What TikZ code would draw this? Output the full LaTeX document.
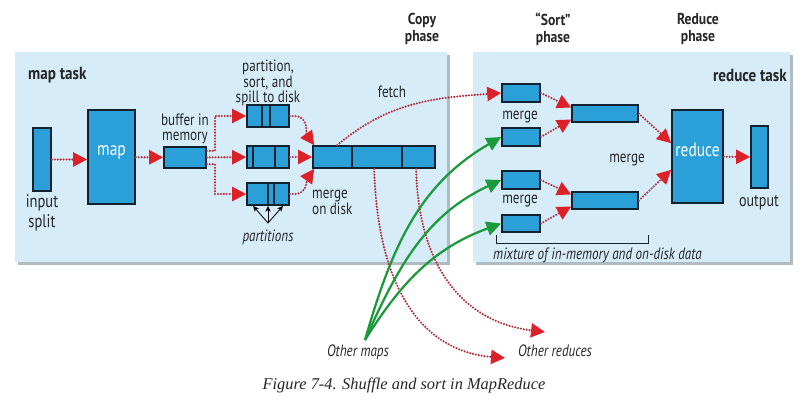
\documentclass[tikz,border=0pt]{standalone}
\usepackage{fontspec}
\setsansfont{PT Sans}[FakeStretch=0.8]
\newfontfamily\headfont{PT Sans}[FakeStretch=0.86]
\newfontfamily\capfont{Liberation Serif}
\usetikzlibrary{arrows.meta,fit,positioning}
\definecolor{panelc}{HTML}{D6ECF8}
\definecolor{shadowc}{HTML}{AEBBC1}
\definecolor{boxc}{HTML}{2A9FD8}
\definecolor{linec}{HTML}{13222E}
\definecolor{dotc}{HTML}{B02C38}
\definecolor{tipc}{HTML}{DD2128}
\definecolor{feedc}{HTML}{1B9A3B}
\begin{document}
\begin{tikzpicture}[x=0.3mm, y=-0.3mm, font=\sffamily\fontsize{14}{12.5}\selectfont,
		box/.style = {draw=linec, fill=boxc, line width=1.4pt, inner sep=0pt, text=white, font=\sffamily\fontsize{16.5}{17}\selectfont},
		letter/.style = {align=center, inner sep=0pt, text=black!85},
		title/.style = {letter, font=\headfont\bfseries\fontsize{13.5}{14.5}\selectfont},
		note/.style = {letter, font=\sffamily\itshape\fontsize{14}{12.5}\selectfont},
		flow/.style = {draw=dotc, line width=2pt, line cap=round, dash pattern=on 0pt off 2.5pt, -{Triangle[length=4.2mm,width=4.2mm,color=tipc]}},
		feed/.style = {draw=feedc, line width=1.9pt, -{Triangle[length=4.4mm,width=4.2mm,color=feedc]}},
		part/.style = {draw=black, line width=0.7pt, -{Stealth[length=1.8mm,width=1.6mm]}}]
		
		\useasboundingbox (0,0) rectangle (800,401);
		
		% panels
		\fill[shadowc] (18,55) rectangle (450,265);
		\fill[panelc] (15,52) rectangle (447,262);
		\fill[shadowc] (476,55) rectangle (793,265);
		\fill[panelc] (473,52) rectangle (790,262);
		
		% map side
		\node[box, fit={(33,128) (51,191)}] (in) {};
		\node[box, fit={(88,110) (135,204)}] (map) {map};
		\node[box, fit={(164,147) (206,168)}] (buf) {};
		\node[box, fit={(247,105) (289,127)}] (s1) {};
		\node[box, fit={(247,146) (289,168)}] (s2) {};
		\node[box, fit={(247,183) (289,205)}] (s3) {};
		\node[box, fit={(313,146) (435,168)}] (mg) {};
		
		\draw[linec, line width=1.4pt] (262,105) -- (262,127);
		\draw[linec, line width=1.4pt] (270,105) -- (270,127);
		\draw[linec, line width=1.4pt] (253,146) -- (253,168);
		\draw[linec, line width=1.4pt] (275,146) -- (275,168);
		\draw[linec, line width=1.4pt] (268,183) -- (268,205);
		\draw[linec, line width=1.4pt] (274,183) -- (274,205);
		\draw[linec, line width=1.4pt] (352,146) -- (352,168);
		\draw[linec, line width=1.4pt] (402,146) -- (402,168);
		
		% reduce side
		\node[box, fit={(502,84) (540,102)}] (r1) {};
		\node[box, fit={(502,128) (540,146)}] (r2) {};
		\node[box, fit={(502,171) (540,189)}] (r3) {};
		\node[box, fit={(502,215) (540,232)}] (r4) {};
		\node[box, fit={(572,105) (638,122)}] (m1) {};
		\node[box, fit={(572,192) (638,209)}] (m2) {};
		\node[box, fit={(672,110) (723,203)}] (red) {reduce};
		\node[box, fit={(751,126) (768,188)}] (out) {};
		
		\draw[flow] (in.east) -- (in.east -| map.west);
		\draw[flow] (map) -- (buf);
		\draw[flow] ([yshift=2mm]buf.east) -| (215,116) -- (s1);
		\draw[flow] (buf) -- (s2);
		\draw[flow] ([yshift=-2mm]buf.east) -| (215,194) -- (s3);
		\draw[flow] (s1.east) -- ++(5,0) to[out=0,in=125] ([xshift=0.6mm]mg.north west);
		\draw[flow] (s2) -- (mg);
		\draw[flow] (s3.east) -- ++(5,0) to[out=0,in=-125] ([xshift=0.6mm]mg.south west);
		\draw[flow] ([xshift=7.5mm]mg.north west) to[out=40,in=184] (r1.west);
		
		\draw[flow] (r1.east) -- ([yshift=-1mm]m1.north west);
		\draw[flow] (r2.east) -- ([yshift=1mm]m1.south west);
		\draw[flow] (r3.east) -- ([yshift=-1mm]m2.north west);
		\draw[flow] (r4.east) -- ([yshift=1mm]m2.south west);
		\draw[flow] (m1.east) -- ([yshift=4mm]red.west);
		\draw[flow] (m2.east) -- ([yshift=-4mm]red.west);
		\draw[flow] (red) -- (out);
		
		% to and from other tasks
		\coordinate (or1) at (505,358);
		\coordinate (or2) at (545,332);
		\coordinate (om) at (365,340);
		\draw[flow] ([xshift=18.6mm]mg.south west) .. controls (378,300) and (430,352) .. (or1);
		\draw[flow] ([xshift=31.2mm]mg.south west) .. controls (418,265) and (462,322) .. (or2);
		\draw[feed] (om) to[out=74,in=210] (r2.west);
		\draw[feed] (om) to[out=66,in=205] (r3.west);
		\draw[feed] (om) to[out=58,in=200] (r4.west);
		
		\coordinate (pt) at (268,223);
		\draw[part] (pt) -- ([xshift=-4.5mm]s3.south);
		\draw[part] (pt) -- (s3.south);
		\draw[part] (pt) -- ([xshift=4.5mm]s3.south);
		
		\draw[linec, line width=0.8pt] (496,235) -- (496,243) -- (648,243) -- (648,235);
		
		% labels
		\node[letter, anchor=west, font=\headfont\bfseries\fontsize{15}{15}\selectfont] (l1) at (28,75) {map task};
		\node[letter, anchor=east, font=\headfont\bfseries\fontsize{15}{15}\selectfont] (l2) at (787,75) {reduce task};
		\node[title] (l3) at (422,29) {Copy\\phase};
		\node[title] (l4) at (553,29) {“Sort”\\phase};
		\node[title] (l5) at (698,29) {Reduce\\phase};
		\node[letter, font=\sffamily\fontsize{15.5}{17}\selectfont] (l6) at (42,213) {input\\split};
		\node[letter] (l7) at (185,129) {buffer in\\memory};
		\node[letter] (l8) at (268,83) {partition,\\sort, and\\spill to disk};
		\node[letter] (l9) at (392,92) {fetch};
		\node[letter, align=left, anchor=north west] (l10) at (312,190) {merge\\on disk};
		\node[note] (l11) at (268,237) {partitions};
		\node[letter] (l12) at (520,117) {merge};
		\node[letter] (l13) at (520,201) {merge};
		\node[letter] (l14) at (627,160) {merge};
		\node[letter, font=\sffamily\fontsize{15}{15}\selectfont] (l15) at (759,203) {output};
		\node[note, anchor=west] (l16) at (493,255) {mixture of in-memory and on-disk data};
		\node[note] (l17) at (358,352) {Other maps};
		\node[note] (l18) at (555,351) {Other reduces};
		\node[letter, font=\capfont\itshape\fontsize{14}{14}\selectfont] (cap) at (404,385) {Figure 7-4. Shuffle and sort in MapReduce};
	\end{tikzpicture}
\end{document}
